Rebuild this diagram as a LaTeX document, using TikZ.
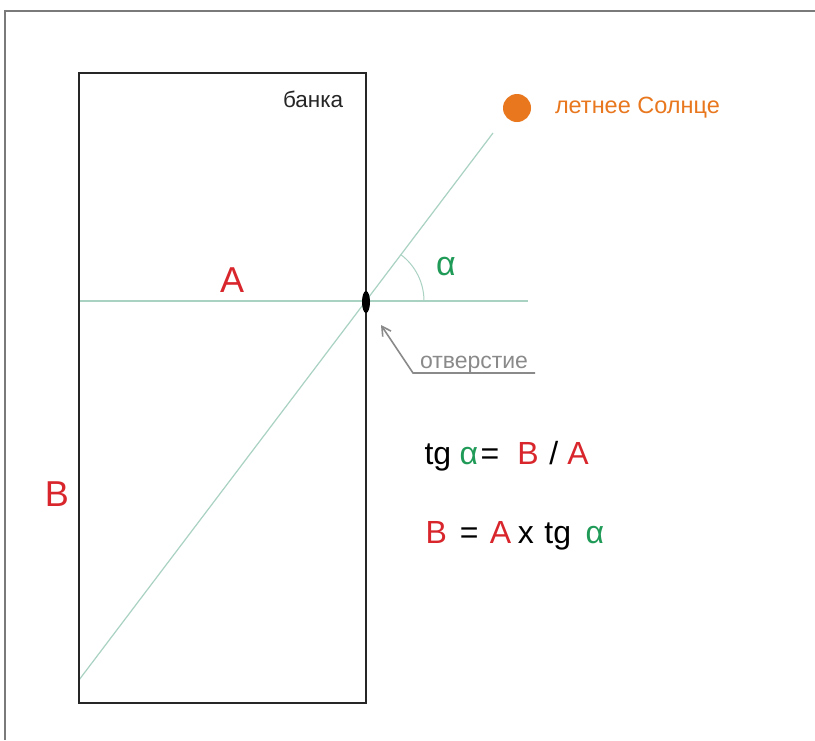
\documentclass[tikz,border=0pt]{standalone}
\usepackage{fontspec}
\setmainfont{Liberation Sans}
\usetikzlibrary{arrows.meta,shapes.geometric}
\definecolor{myred}{HTML}{D8262C}
\definecolor{mygreen}{HTML}{1F9A57}
\definecolor{myorange}{HTML}{E8771E}
\definecolor{ray}{HTML}{A9D2C2}
\definecolor{framegray}{HTML}{7A7A7A}
\definecolor{lblgray}{HTML}{8A8A8A}
\tikzset{
  raylines/.style={draw=ray, line width=1.2pt},
  jar/.style={draw=black!85, line width=2pt},
  txt/.style={inner sep=0pt, outer sep=0pt, anchor=base west},
  pointer/.style={draw=lblgray, line width=1.6pt}
}
\begin{document}
\begin{tikzpicture}[x=1pt,y=-1pt]
\useasboundingbox (0,0) rectangle (815,740);
\fill[white] (0,0) rectangle (815,740);
% outer frame
\draw[framegray, line width=1.5pt] (5,740) -- (5,11) -- (815,11);
% coordinates
\coordinate (tl) at (79,73);
\coordinate (br) at (366,703);
\coordinate (hole) at (366,302);
\coordinate (hl) at (79,301);
\coordinate (hr) at (528,301);
\coordinate (dl) at (79,680);
\coordinate (dr) at (493,133);
% rays
\draw[raylines] (hl) -- (hr);
\draw[raylines] (dl) -- (dr);
\draw[raylines, line width=1pt] ([xshift=58pt]366,301) arc[start angle=0, end angle=-52.9, radius=58];
% jar
\draw[jar] (tl) rectangle (br);
\node[fill=black, ellipse, minimum width=8pt, minimum height=22pt, inner sep=0pt] (h) at (hole) {};
% sun
\node[circle, fill=myorange, minimum size=28pt, inner sep=0pt] (sun) at (517,108) {};
\node[txt, text=myorange, font=\fontsize{23.5}{28}\selectfont] (sunl) at (555,113) {летнее Солнце};
% labels
\node[txt, font=\fontsize{22.5}{27}\selectfont, text=black!85] (banka) at (283,107) {банка};
\node[txt, font=\fontsize{36}{40}\selectfont, text=myred] (A) at (220,292) {A};
\node[txt, font=\fontsize{36}{40}\selectfont, text=myred] (B) at (45,506) {B};
\node[txt, font=\fontsize{34}{38}\selectfont, text=mygreen] (alpha) at (436,275) {α};
% pointer
\node[txt, font=\fontsize{23}{27}\selectfont, text=lblgray] (otv) at (420,368) {отверстие};
\coordinate (u1) at (535,373);
\coordinate (u2) at (413,373);
\coordinate (tip) at (381,325);
\draw[pointer, -{Straight Barb[length=9pt,width=10pt]}] (u1) -- (u2) -- (tip);
% formulas
\node[txt, font=\fontsize{32}{36}\selectfont] (f1) at (424.5,464) {tg\hspace{8.5pt}\textcolor{mygreen}{α}\hspace{2.5pt}=\hspace{18pt}\textcolor{myred}{B}\hspace{10.7pt}/\hspace{9pt}\textcolor{myred}{A}};
\node[txt, font=\fontsize{32}{36}\selectfont] (f2) at (425.5,543) {\textcolor{myred}{B}\hspace{13pt}=\hspace{11.3pt}\textcolor{myred}{A}\hspace{6.7pt}x\hspace{10.5pt}tg\hspace{14.5pt}\textcolor{mygreen}{α}};
\end{tikzpicture}
\end{document}
